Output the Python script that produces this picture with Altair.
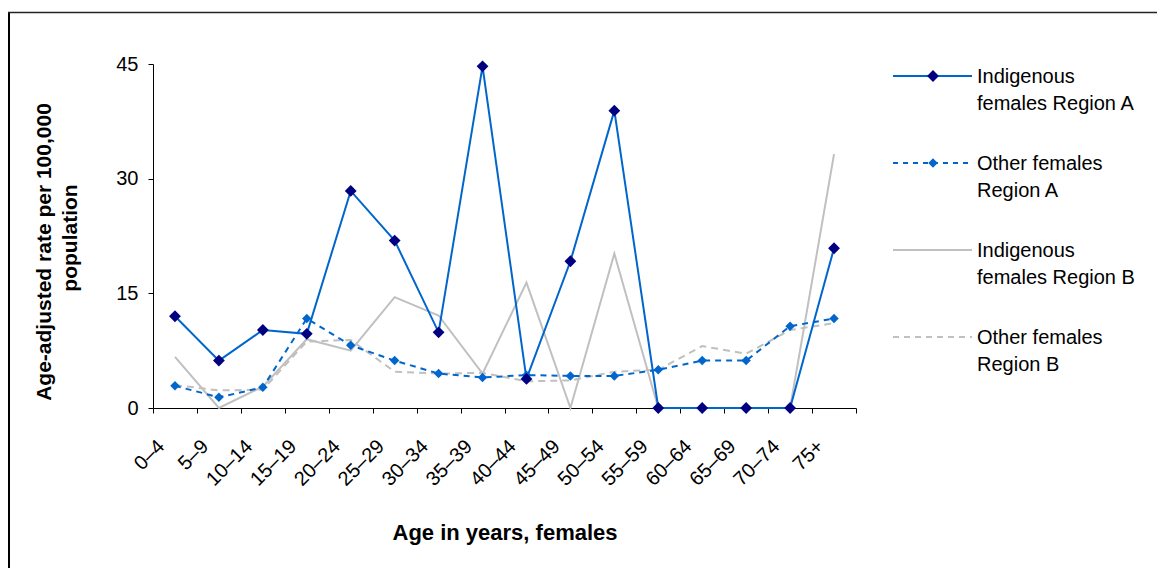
import altair as alt
import pandas as pd

# ---- data ----
categories = ["0–4", "5–9", "10–14", "15–19", "20–24", "25–29", "30–34", "35–39",
              "40–44", "45–49", "50–54", "55–59", "60–64", "65–69", "70–74", "75+"]
indigenous_a = [12.0, 6.2, 10.2, 9.7, 28.4, 21.9, 9.9, 44.7, 3.8, 19.2, 38.9, 0, 0, 0, 0, 20.9]
other_a = [2.9, 1.4, 2.7, 11.7, 8.2, 6.2, 4.5, 4.0, 4.3, 4.2, 4.2, 5.0, 6.2, 6.2, 10.7, 11.7]
indigenous_b = [6.7, 0, 2.8, 9.0, 7.5, 14.5, 12.1, 4.5, 16.4, 0, 20.2, 0, 0, 0, 0, 33.2]
other_b = [3.0, 2.3, 2.4, 8.7, 8.9, 4.75, 4.5, 4.6, 3.5, 3.6, 4.75, 5.0, 8.1, 7.1, 10.2, 11.1]
y_ticks = [0, 15, 30, 45]

series_names = ["Indigenous females Region A", "Other females Region A",
                "Indigenous females Region B", "Other females Region B"]
legend_lines = [["Indigenous", "females Region A"], ["Other females", "Region A"],
                ["Indigenous", "females Region B"], ["Other females", "Region B"]]

rows = []
for name, vals in zip(series_names, [indigenous_a, other_a, indigenous_b, other_b]):
    for i, (c, v) in enumerate(zip(categories, vals)):
        rows.append({"series": name, "age": c, "pos": i + 0.5, "rate": v})
df = pd.DataFrame(rows)

# ---- styling ----
W, H = 703, 344
PAD = {"left": 145, "top": 56, "right": 301, "bottom": 160}
FONT = "Liberation Sans"
BLUE = "#0066CC"
NAVY = "#000080"
GRAY = "#C0C0C0"

xscale = alt.Scale(domain=[0, len(categories)], nice=False, zero=False)
yscale = alt.Scale(domain=[0, 45], nice=False)

yaxis = alt.Axis(values=y_ticks, grid=False, title=None, tickSize=5, tickColor="black",
                 domainColor="black", labelFont=FONT, labelFontSize=20, labelColor="black",
                 labelPadding=10)

label_expr = "[" + ",".join("'%s'" % c for c in categories) + "][floor(datum.value)]"
label_axis = alt.Axis(values=[i + 0.5 for i in range(len(categories))], labelExpr=label_expr,
                      ticks=False, tickSize=0, domain=False, grid=False, orient="bottom",
                      labelAngle=315, labelAlign="right", labelBaseline="middle",
                      labelPadding=35, labelOffset=-14, labelFont=FONT, labelFontSize=20,
                      labelColor="black", labelOverlap=False, labelBound=False, labelFlush=False,
                      title="Age in years, females", titleFont=FONT, titleFontSize=22,
                      titleFontWeight="bold", titleColor="black", titleY=124,
                      titleBaseline="middle")
tick_axis = alt.Axis(values=list(range(len(categories) + 1)), labels=False, ticks=True,
                     tickSize=5, tickColor="black", domain=True, domainColor="black",
                     grid=False, title=None, orient="bottom")

base = alt.Chart(df)


def line_layer(name, color, dash, axis):
    kw = {}
    if dash:
        kw["strokeDash"] = dash
    return base.transform_filter(alt.datum.series == name).mark_line(
        color=color, strokeWidth=2, **kw
    ).encode(
        x=alt.X("pos:Q", scale=xscale, axis=axis),
        y=alt.Y("rate:Q", scale=yscale, axis=yaxis),
        order="pos:Q",
    )


def point_layer(name, color, size):
    return base.transform_filter(alt.datum.series == name).mark_point(
        shape="diamond", filled=True, color=color, size=size, opacity=1
    ).encode(
        x=alt.X("pos:Q", scale=xscale, axis=None),
        y=alt.Y("rate:Q", scale=yscale, axis=yaxis),
    )


one = alt.Data(values=[{"k": 0}])

frame_left = alt.Chart(one).mark_rule(color="black", strokeWidth=2).encode(
    x=alt.value(-144), y=alt.value(-52), y2=alt.value(H + PAD["bottom"]))
frame_top = alt.Chart(one).mark_rule(color="#222222", strokeWidth=1.5).encode(
    x=alt.value(-145), x2=alt.value(W + PAD["right"]), y=alt.value(-51.5))

ytitle1 = alt.Chart(one).mark_text(angle=270, font=FONT, fontSize=21, fontWeight="bold",
                                   baseline="middle", align="center", color="black").encode(
    x=alt.value(-108), y=alt.value(188), text=alt.value("Age-adjusted rate per 100,000"))
ytitle2 = alt.Chart(one).mark_text(angle=270, font=FONT, fontSize=21, fontWeight="bold",
                                   baseline="middle", align="center", color="black").encode(
    x=alt.value(-82), y=alt.value(174), text=alt.value("population"))

legend_styles = [
    (BLUE, None, NAVY, 140),
    (BLUE, [5, 5], BLUE, 90),
    (GRAY, None, None, 0),
    (GRAY, [6, 5], None, 0),
]
legend_layers = []
for i, ((lc, dash, mc, ms), lines) in enumerate(zip(legend_styles, legend_lines)):
    y0 = 12 + 87 * i
    kw = {"strokeDash": dash} if dash else {}
    legend_layers.append(alt.Chart(one).mark_rule(color=lc, strokeWidth=2, **kw).encode(
        x=alt.value(740), x2=alt.value(819), y=alt.value(y0)))
    if mc:
        legend_layers.append(alt.Chart(one).mark_point(
            shape="diamond", filled=True, color=mc, size=ms, opacity=1).encode(
            x=alt.value(780), y=alt.value(y0)))
    legend_layers.append(alt.Chart(one).mark_text(
        font=FONT, fontSize=20, align="left", baseline="alphabetic", lineHeight=26.5,
        color="black").encode(x=alt.value(824), y=alt.value(y0 + 7), text=alt.value(lines)))

chart = alt.layer(
    frame_left, frame_top,
    line_layer("Indigenous females Region B", GRAY, None, label_axis),
    line_layer("Other females Region B", GRAY, [7, 5], tick_axis),
    line_layer("Other females Region A", BLUE, [6, 5], None),
    line_layer("Indigenous females Region A", BLUE, None, None),
    point_layer("Other females Region A", BLUE, 90),
    point_layer("Indigenous females Region A", NAVY, 140),
    ytitle1, ytitle2,
    *legend_layers,
).resolve_axis(x="independent").properties(
    width=W, height=H, padding=PAD, autosize=alt.AutoSizeParams(type="none"),
    background="white",
).configure_view(stroke=None)

chart.save("out.html", embed_options={"renderer": "svg", "actions": False})
